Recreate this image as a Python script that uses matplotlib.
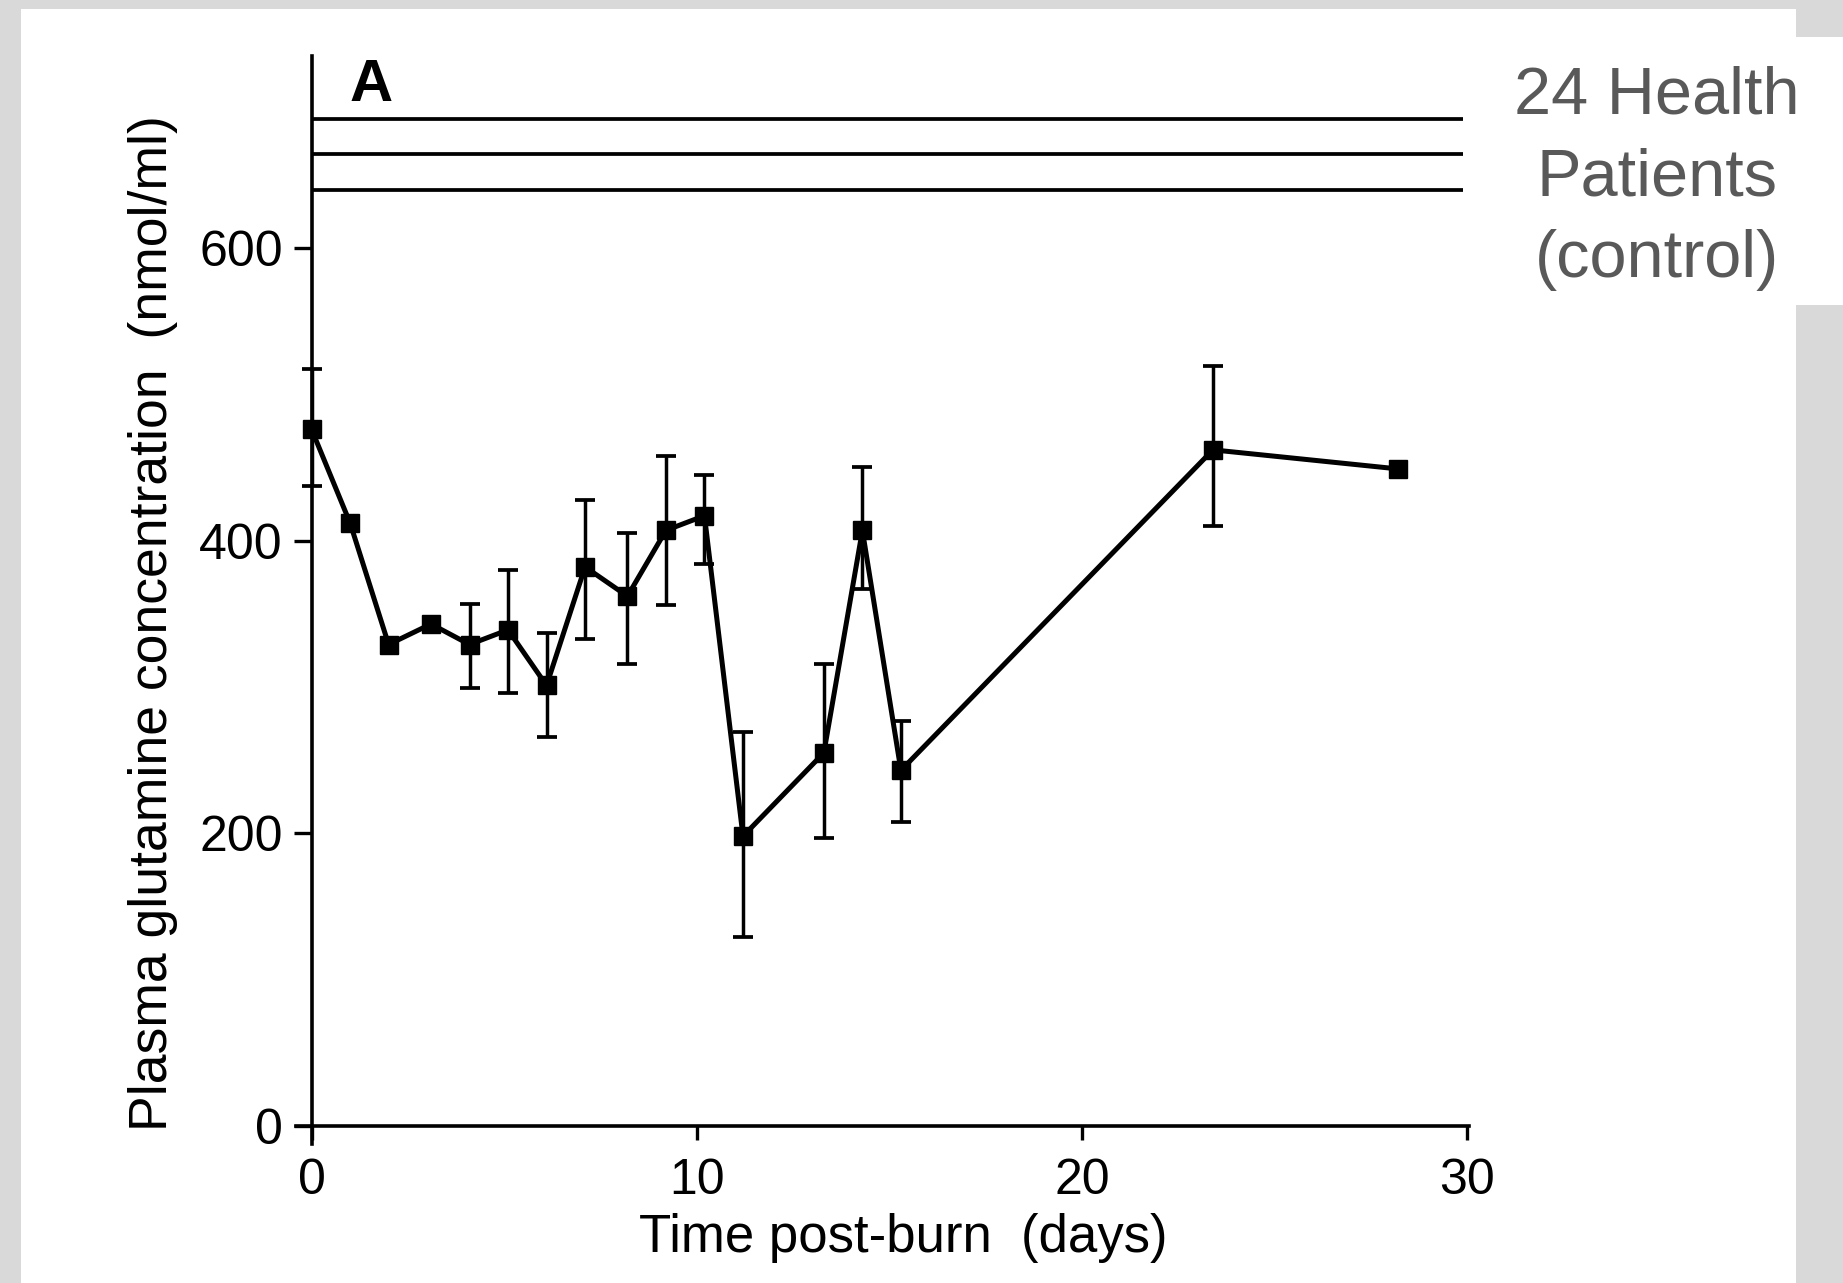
import numpy as np
import matplotlib
matplotlib.use("Agg")
import matplotlib.pyplot as plt
from matplotlib.patches import Rectangle

plt.rcParams['font.family'] = ['Liberation Sans', 'DejaVu Sans']

# ---- data ----
days = [0, 1, 2, 3.1, 4.1, 5.1, 6.1, 7.1, 8.2, 9.2, 10.2, 11.2, 13.3, 14.3, 15.3, 23.4, 28.2]
glutamine = [476, 412, 329, 343, 329, 339, 301, 382, 362, 407, 417, 198, 255, 407, 243, 462, 449]
err_upper = [41, np.nan, np.nan, np.nan, 28, 41, 36, 46, 43, 51, 28, 71, 61, 43, 34, 57, np.nan]
err_lower = [39, np.nan, np.nan, np.nan, 30, 43, 35, 49, 46, 51, 33, 69, 58, 40, 35, 52, np.nan]
control_levels = [688, 664.5, 639.5]
x_ticks = [0, 10, 20, 30]
y_ticks = [0, 200, 400, 600]
panel_label = "A"
control_text = "24 Health\nPatients\n(control)"
x_label = "Time post-burn  (days)"
y_label = "Plasma glutamine concentration  (nmol/ml)"

W, H = 1843, 1283
fig = plt.figure(figsize=(W / 100, H / 100), dpi=100, facecolor='#d9d9d9')

# white page areas over the grey frame
fig.patches.append(Rectangle((21 / W, 0), (1796 - 21) / W, (H - 9) / H,
                             transform=fig.transFigure, facecolor='white',
                             edgecolor='none', zorder=-10))
fig.patches.append(Rectangle((1796 / W, 1 - 305 / H), (W - 1796) / W, (305 - 37) / H,
                             transform=fig.transFigure, facecolor='white',
                             edgecolor='none', zorder=-10))

ax = fig.add_axes([0.1607, 0.1087, 0.6364, 0.8475])
ax.set_facecolor('none')
ax.set_xlim(-0.4, 30.05)
ax.set_ylim(-12, 731)

for s in ['top', 'right']:
    ax.spines[s].set_visible(False)
ax.spines['left'].set_position(('data', 0))
ax.spines['bottom'].set_position(('data', 0))
for s in ['left', 'bottom']:
    ax.spines[s].set_linewidth(2.6)
    ax.spines[s].set_color('black')

# control lines
ax.hlines(control_levels, 0, 29.9, colors='black', linewidth=2.7, zorder=2)

# error bars only where present
ex = [d for d, u in zip(days, err_upper) if not np.isnan(u)]
ey = [g for g, u in zip(glutamine, err_upper) if not np.isnan(u)]
eu = [u for u in err_upper if not np.isnan(u)]
el = [l for l in err_lower if not np.isnan(l)]
ax.errorbar(ex, ey, yerr=[el, eu], fmt='none', ecolor='black',
            elinewidth=2.5, capsize=7.5, capthick=2.7, zorder=3)

ax.plot(days, glutamine, '-s', color='black', linewidth=3.6, markersize=13,
        zorder=4, clip_on=False)

ax.set_xticks(x_ticks)
ax.set_yticks(y_ticks)
ax.tick_params(axis='y', direction='out', length=12.7, width=2.4, labelsize=36, pad=8)
ax.tick_params(axis='x', direction='out', length=10, width=2.4, labelsize=36, pad=13)

ax.set_xlabel(x_label, fontsize=38)
ax.set_ylabel(y_label, fontsize=38.5)
ax.xaxis.set_label_coords(0.5174, -0.0868)
ax.xaxis.label.set_va('center')
ax.yaxis.set_label_coords(-0.122, 0.479)
ax.yaxis.label.set_va('center')

fig.text(371 / W, 1 - 101 / H, panel_label, ha='center', va='baseline',
         fontsize=43, fontweight='bold')

for i, line in enumerate(control_text.split("\n")):
    fig.text(1657 / W, 1 - (113 + 82 * i) / H, line, ha='center', va='baseline',
             fontsize=48, color='#595959')

fig.savefig("out.png", dpi=100, facecolor=fig.get_facecolor())
